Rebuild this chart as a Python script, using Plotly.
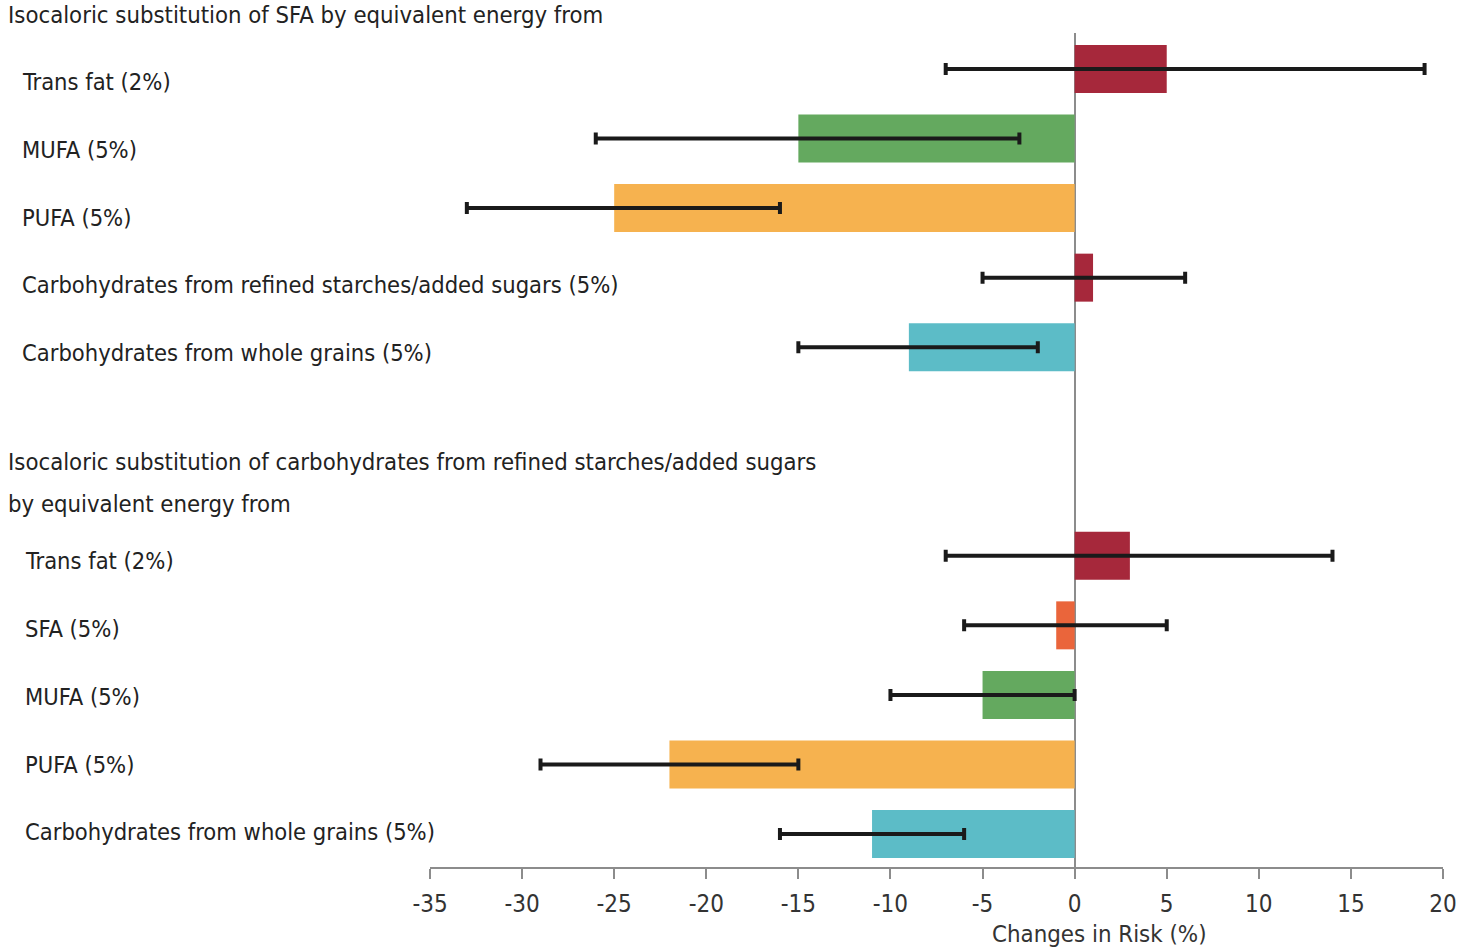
import plotly.graph_objects as go

# ---- data ----
group_titles = [
    "Isocaloric substitution of SFA by equivalent energy from",
    "Isocaloric substitution of carbohydrates from refined starches/added sugars",
    "by equivalent energy from",
]
labels_g1 = ["Trans fat (2%)", "MUFA (5%)", "PUFA (5%)",
             "Carbohydrates from refined starches/added sugars (5%)",
             "Carbohydrates from whole grains (5%)"]
values_g1 = [5, -15, -25, 1, -9]
lower_g1 = [-7, -26, -33, -5, -15]
upper_g1 = [19, -3, -16, 6, -2]
colors_g1 = ["#a6283b", "#64a95f", "#f6b24f", "#a6283b", "#5cbcc7"]

labels_g2 = ["Trans fat (2%)", "SFA (5%)", "MUFA (5%)", "PUFA (5%)",
             "Carbohydrates from whole grains (5%)"]
values_g2 = [3, -1, -5, -22, -11]
lower_g2 = [-7, -6, -10, -29, -16]
upper_g2 = [14, 5, 0, -15, -6]
colors_g2 = ["#a6283b", "#ea653b", "#64a95f", "#f6b24f", "#5cbcc7"]

x_ticks = [-35, -30, -25, -20, -15, -10, -5, 0, 5, 10, 15, 20]
x_title = "Changes in Risk (%)"

# ---- layout constants ----
GAP = 2  # empty slots between groups
pos_g1 = list(range(len(labels_g1)))
pos_g2 = [len(labels_g1) + GAP + i for i in range(len(labels_g2))]

# text rows of the category labels (page pixels, layout only)
label_rows_g1 = [82, 150, 218, 285, 353]
label_rows_g2 = [561, 629, 697, 765, 832]

FONT = "Liberation Sans Narrow, DejaVu Sans Condensed, Arial Narrow, sans-serif"
W, H = 1460, 948
ML, MT = 430, 33
MR = W - 1443
MB = H - 867
PW = W - ML - MR
PH = H - MT - MB

def px_to_paper_x(px):
    return (px - ML) / PW

def px_to_paper_y(py):
    return 1 - (py - MT) / PH

fig = go.Figure()

for pos, vals, lo, hi, cols in [(pos_g1, values_g1, lower_g1, upper_g1, colors_g1),
                                 (pos_g2, values_g2, lower_g2, upper_g2, colors_g2)]:
    fig.add_trace(go.Bar(
        x=vals, y=pos, orientation="h",
        marker=dict(color=cols, line=dict(width=0)),
        width=0.69,
        error_x=dict(type="data", symmetric=False,
                     array=[h - v for h, v in zip(hi, vals)],
                     arrayminus=[v - l for l, v in zip(lo, vals)],
                     color="#1a1a1a", thickness=4, width=6),
        showlegend=False, hoverinfo="skip",
    ))

annotations = []
for labs, rows, xpx in [(labels_g1, label_rows_g1, 20), (labels_g2, label_rows_g2, 23)]:
    for t, py in zip(labs, rows):
        annotations.append(dict(x=px_to_paper_x(xpx), xref="paper", y=px_to_paper_y(py), yref="paper",
                                text=t, showarrow=False, xanchor="left", yanchor="middle",
                                font=dict(family=FONT, size=23.5, color="#222")))
# group headers (page pixel rows)
hdr_rows = [15, 462, 504]
for t, py in zip(group_titles, hdr_rows):
    annotations.append(dict(x=px_to_paper_x(6), xref="paper", y=px_to_paper_y(py), yref="paper",
                            text=t, showarrow=False, xanchor="left", yanchor="middle",
                            font=dict(family=FONT, size=23.7, color="#222")))

annotations.append(dict(x=px_to_paper_x(1099), xref="paper", y=px_to_paper_y(934), yref="paper",
                        text=x_title, showarrow=False, xanchor="center", yanchor="middle",
                        font=dict(family=FONT, size=23.8, color="#333")))

first, last = pos_g1[0], pos_g2[-1]
fig.update_layout(
    width=W, height=H,
    margin=dict(l=ML, r=MR, t=MT, b=MB, autoexpand=False),
    plot_bgcolor="white", paper_bgcolor="white",
    annotations=annotations,
    xaxis=dict(range=[x_ticks[0], x_ticks[-1]], tickvals=x_ticks,
               ticktext=[str(v) for v in x_ticks],
               showgrid=False, zeroline=True, zerolinecolor="#8c8c8c", zerolinewidth=2,
               showline=True, linecolor="#8c8c8c", linewidth=2,
               ticks="outside", ticklen=10, tickwidth=2, tickcolor="#8c8c8c",
               ticklabelstandoff=4,
               tickfont=dict(family=FONT, size=24, color="#333")),
    yaxis=dict(range=[last + 0.475, first - 0.518], showticklabels=False,
               showgrid=False, zeroline=False, showline=False, ticks=""),
)

fig.write_html("out.html", config={"displayModeBar": False},
               post_script="document.body.style.margin='0';document.body.style.overflow='hidden';")
